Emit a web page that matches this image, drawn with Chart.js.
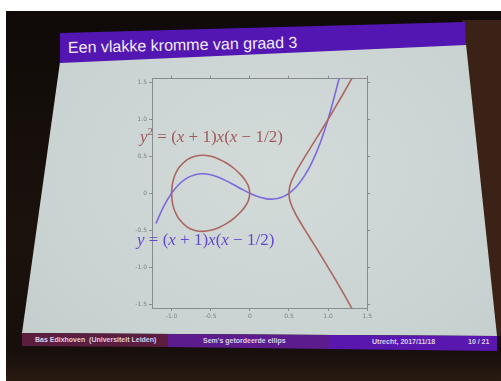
<!DOCTYPE html>
<html>
<head>
<meta charset="utf-8">
<title>Een vlakke kromme van graad 3</title>
<script src="https://cdn.jsdelivr.net/npm/chart.js@4.4.0/dist/chart.umd.min.js"></script>
<style>
  html, body { margin: 0; padding: 0; }
  body {
    width: 501px; height: 381px; position: relative; overflow: hidden;
    background: #ffffff;
    font-family: "Liberation Sans", Arial, sans-serif;
  }
  .abs { position: absolute; }
  .full { position: absolute; left: 0; top: 0; width: 501px; height: 381px; }
  #room { left: 6px; top: 11px; right: 0; bottom: 0; background: linear-gradient(to bottom, #0f0a08 0%, #1b120d 60%, #160f0b 92%, #2a1b12 100%); }
  #wall { background: #3a2316; clip-path: polygon(462px 20px, 501px 20px, 501px 336px, 494px 336px); }
  #slide { background: radial-gradient(ellipse at 55% 45%, #d3dbd9 0%, #c9d3d1 60%, #c1cbca 100%);
           clip-path: polygon(60px 62px, 466px 44px, 497px 336px, 22px 333px); }
  #titlebar { background: #5416b2; clip-path: polygon(60px 33px, 465px 22px, 466px 45px, 60px 63px); }
  #footL { background: #5b1e3e; clip-path: polygon(22px 333px, 168px 334px, 168px 347px, 22px 346px); }
  #footM { background: #5d1c8e; clip-path: polygon(168px 334px, 330px 335px, 330px 349px, 168px 347px); }
  #footR { background: #5917b0; clip-path: polygon(330px 335px, 497px 336px, 497px 351px, 330px 349px); }
  #title { left: 68px; top: 39px; color: #f1edf8; font-size: 16px; white-space: nowrap;
           transform: rotate(-1.3deg); transform-origin: left center; }
  .foot { color: #dcd0e6; font-size: 7px; font-weight: bold; white-space: nowrap; }
  #chartBox { left: 132px; top: 73px; width: 242px; height: 249px; }
  .eq { font-family: "Liberation Serif", "DejaVu Serif", serif; font-size: 17px; white-space: nowrap; line-height: 20px; }
  .eq i { font-style: italic; }
  .eq sup { font-size: 11px; vertical-align: 7px; line-height: 0; }
  #eqRed { left: 140px; top: 127px; color: #a0585a; }
  #eqBlue { left: 137px; top: 230px; color: #6448cf; }
</style>
</head>
<body>
<div id="room" class="abs"></div>
<div id="wall" class="full"></div>
<div id="slide" class="full"></div>
<div id="titlebar" class="full"></div>
<div id="footL" class="full"></div>
<div id="footM" class="full"></div>
<div id="footR" class="full"></div>

<div id="title" class="abs">Een vlakke kromme van graad 3</div>

<div id="chartBox" class="abs"><canvas id="curveChart" width="242" height="249"></canvas></div>

<div id="eqRed" class="abs eq"><i>y</i><sup>2</sup> = (<i>x</i> + 1)<i>x</i>(<i>x</i> − 1/2)</div>
<div id="eqBlue" class="abs eq"><i>y</i> = (<i>x</i> + 1)<i>x</i>(<i>x</i> − 1/2)</div>

<div class="abs foot" style="left:35px; top:336px;">Bas Edixhoven &nbsp;(Universiteit Leiden)</div>
<div class="abs foot" style="left:203px; top:337px;">Sem's getordeerde ellips</div>
<div class="abs foot" style="left:372px; top:338px;">Utrecht, 2017/11/18</div>
<div class="abs foot" style="left:468px; top:338px;">10 / 21</div>

<script>
// axis ranges and tick labels
const xRange = [-1.25, 1.5];
const yRange = [-1.55, 1.55];
const xTicks = [-1, -0.5, 0, 0.5, 1, 1.5];
const yTicks = [-1.5, -1, -0.5, 0, 0.5, 1, 1.5];

// y = (x+1)x(x-1/2)
const cubicX = [-1.2, -1.1, -1.0, -0.9, -0.8, -0.7, -0.6, -0.5, -0.4, -0.3, -0.2, -0.1, 0, 0.1, 0.2, 0.3, 0.4, 0.5, 0.6, 0.7, 0.8, 0.9, 1.0, 1.1, 1.15];
const cubicY = [-0.408, -0.176, 0, 0.126, 0.208, 0.252, 0.264, 0.25, 0.216, 0.168, 0.112, 0.054, 0, -0.044, -0.072, -0.078, -0.056, 0, 0.096, 0.238, 0.432, 0.684, 1.0, 1.386, 1.591];

// y^2 = (x+1)x(x-1/2), the closed oval (top half then bottom half)
const ovalX = [-1, -0.99, -0.97, -0.95, -0.9, -0.8, -0.7, -0.6, -0.5, -0.4, -0.3, -0.2, -0.1, -0.05, -0.02, 0,
               -0.02, -0.05, -0.1, -0.2, -0.3, -0.4, -0.5, -0.6, -0.7, -0.8, -0.9, -0.95, -0.97, -0.99, -1];
const ovalY = [0, 0.121, 0.207, 0.262, 0.355, 0.456, 0.502, 0.514, 0.5, 0.465, 0.41, 0.335, 0.232, 0.162, 0.101, 0,
               -0.101, -0.162, -0.232, -0.335, -0.41, -0.465, -0.5, -0.514, -0.502, -0.456, -0.355, -0.262, -0.207, -0.121, 0];

// the open branch, from bottom right through (1/2, 0) up to top right
const branchX = [1.32, 1.3, 1.2, 1.1, 1.0, 0.9, 0.8, 0.7, 0.6, 0.55, 0.53, 0.51, 0.5,
                 0.51, 0.53, 0.55, 0.6, 0.7, 0.8, 0.9, 1.0, 1.1, 1.2, 1.3, 1.32];
const branchY = [-1.585, -1.547, -1.359, -1.177, -1.0, -0.827, -0.657, -0.488, -0.31, -0.206, -0.156, -0.088, 0,
                 0.088, 0.156, 0.206, 0.31, 0.488, 0.657, 0.827, 1.0, 1.177, 1.359, 1.547, 1.585];

const redColor = '#ab6664';
const blueColor = '#7c69dc';
const axisColor = '#868d8c';

function toPoints(xs, ys) {
    return xs.map((x, i) => ({ x: x, y: ys[i] }));
}

function curve(xs, ys, color) {
    return {
        data: toPoints(xs, ys),
        showLine: true,
        borderColor: color,
        borderWidth: 1.6,
        pointRadius: 0,
        tension: 0.35,
        fill: false
    };
}

function frameAxis(position, range, ticks, size) {
    return {
        type: 'linear',
        position: position,
        min: range[0],
        max: range[1],
        afterBuildTicks: s => { s.ticks = ticks.map(v => ({ value: v })); },
        afterFit: s => {
            if (position === 'top' || position === 'bottom') s.height = size;
            else s.width = size;
        },
        grid: { display: true, drawOnChartArea: false, tickLength: 3, color: axisColor },
        border: { display: true, color: axisColor, width: 1 },
        ticks: {
            display: position === 'bottom' || position === 'left',
            font: { family: 'DejaVu Sans', size: 6 },
            color: '#7b8281',
            padding: 2
        }
    };
}

new Chart(document.getElementById('curveChart'), {
    type: 'scatter',
    data: {
        datasets: [
            curve(ovalX, ovalY, redColor),
            curve(branchX, branchY, redColor),
            curve(cubicX, cubicY, blueColor)
        ]
    },
    options: {
        responsive: false,
        animation: false,
        layout: { padding: 0 },
        plugins: { legend: { display: false }, tooltip: { enabled: false } },
        scales: {
            x: frameAxis('bottom', xRange, xTicks, 14),
            y: frameAxis('left', yRange, yTicks, 20),
            x2: frameAxis('top', xRange, xTicks, 4),
            y2: frameAxis('right', yRange, yTicks, 4)
        }
    }
});
</script>
</body>
</html>
